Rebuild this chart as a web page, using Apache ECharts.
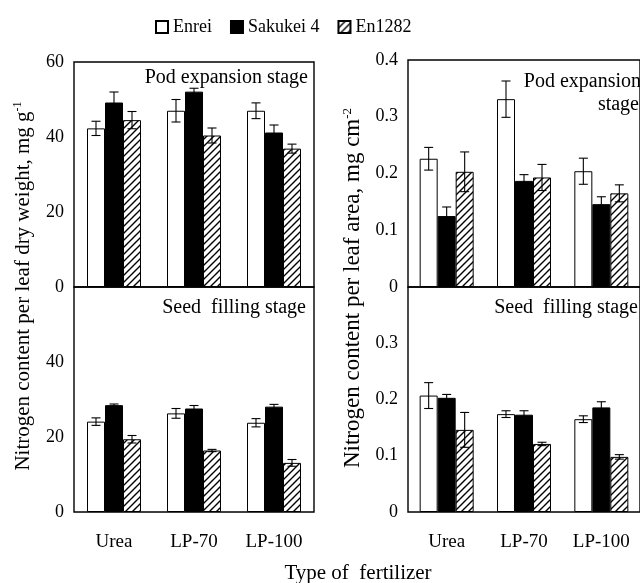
<!DOCTYPE html>
<html>
<head>
<meta charset="utf-8">
<script src="https://cdn.jsdelivr.net/npm/echarts@6/dist/echarts.min.js"></script>
<style>html,body{margin:0;padding:0;background:#fff}#c{width:640px;height:583px}</style>
</head>
<body>
<div id="c"></div>
<script>
const categories = ['Urea', 'LP-70', 'LP-100'];
const varieties = ['Enrei', 'Sakukei 4', 'En1282'];

// N content per leaf dry weight (mg g-1), pod expansion stage
const dwPodEnrei = [42.3, 47.0, 47.0];
const dwPodSakukei = [49.2, 52.1, 41.2];
const dwPodEn1282 = [44.5, 40.4, 36.9];
const dwPodEnreiErr = [1.9, 3.0, 2.1];
const dwPodSakukeiErr = [2.8, 0.9, 2.0];
const dwPodEn1282Err = [2.3, 2.0, 1.2];
// seed filling stage
const dwSeedEnrei = [24.1, 26.3, 23.8];
const dwSeedSakukei = [28.5, 27.6, 28.1];
const dwSeedEn1282 = [19.4, 16.4, 13.1];
const dwSeedEnreiErr = [1.0, 1.3, 1.1];
const dwSeedSakukeiErr = [0.3, 0.8, 0.6];
const dwSeedEn1282Err = [1.0, 0.3, 0.9];

// N content per leaf area (mg cm-2), pod expansion stage
const laPodEnrei = [0.226, 0.331, 0.204];
const laPodSakukei = [0.125, 0.187, 0.146];
const laPodEn1282 = [0.203, 0.193, 0.165];
const laPodEnreiErr = [0.020, 0.032, 0.023];
const laPodSakukeiErr = [0.016, 0.011, 0.013];
const laPodEn1282Err = [0.035, 0.023, 0.015];
// seed filling stage
const laSeedEnrei = [0.207, 0.174, 0.165];
const laSeedSakukei = [0.203, 0.173, 0.186];
const laSeedEn1282 = [0.146, 0.121, 0.098];
const laSeedEnreiErr = [0.023, 0.006, 0.006];
const laSeedSakukeiErr = [0.006, 0.007, 0.010];
const laSeedEn1282Err = [0.031, 0.003, 0.004];

const leftTicks = {min: 0, max: 60, interval: 20};
const rightTicks = {min: 0, max: 0.4, interval: 0.1};

const FONT = '"Liberation Serif", "Times New Roman", serif';
const BAR_W = 18;

// hatch pattern
const pc = document.createElement('canvas');
pc.width = 7; pc.height = 7;
const pctx = pc.getContext('2d');
pctx.fillStyle = '#fff'; pctx.fillRect(0, 0, 7, 7);
pctx.strokeStyle = '#000'; pctx.lineWidth = 1.4;
pctx.beginPath();
pctx.moveTo(-1, 8); pctx.lineTo(8, -1);
pctx.moveTo(-1, 1); pctx.lineTo(1, -1);
pctx.moveTo(6, 8); pctx.lineTo(8, 6);
pctx.stroke();

const styles = [
  {color: '#fff', borderColor: '#000', borderWidth: 1},
  {color: '#000', borderColor: '#000', borderWidth: 1},
  {color: {image: pc, repeat: 'repeat'}, borderColor: '#000', borderWidth: 1}
];

const panels = [
  {vals: [dwPodEnrei, dwPodSakukei, dwPodEn1282], errs: [dwPodEnreiErr, dwPodSakukeiErr, dwPodEn1282Err], ticks: leftTicks, top: true},
  {vals: [dwSeedEnrei, dwSeedSakukei, dwSeedEn1282], errs: [dwSeedEnreiErr, dwSeedSakukeiErr, dwSeedEn1282Err], ticks: leftTicks, top: false},
  {vals: [laPodEnrei, laPodSakukei, laPodEn1282], errs: [laPodEnreiErr, laPodSakukeiErr, laPodEn1282Err], ticks: rightTicks, top: true},
  {vals: [laSeedEnrei, laSeedSakukei, laSeedEn1282], errs: [laSeedEnreiErr, laSeedSakukeiErr, laSeedEn1282Err], ticks: rightTicks, top: false}
];

const grids = [
  {left: 74, top: 62, width: 240, height: 225},
  {left: 74, top: 287, width: 240, height: 225},
  {left: 408, top: 60, width: 240, height: 227},
  {left: 408, top: 287, width: 240, height: 225}
].map(g => Object.assign(g, {show: true, borderColor: '#000', borderWidth: 1.4, backgroundColor: 'transparent', containLabel: false}));

const xAxes = panels.map((p, i) => ({
  type: 'category', gridIndex: i, data: categories,
  axisLine: {show: false}, axisTick: {show: false},
  axisLabel: {show: !p.top, color: '#000', fontFamily: FONT, fontSize: 19, margin: 21}
}));
const yAxes = panels.map((p, i) => ({
  type: 'value', gridIndex: i, min: p.ticks.min, max: p.ticks.max, interval: p.ticks.interval,
  axisLine: {show: false}, axisTick: {show: false}, splitLine: {show: false},
  axisLabel: {color: '#000', fontFamily: FONT, fontSize: 18, margin: 10, showMaxLabel: p.top}
}));

const series = [];
panels.forEach((p, i) => {
  varieties.forEach((v, k) => {
    series.push({
      type: 'bar', name: v, xAxisIndex: i, yAxisIndex: i,
      data: p.vals[k], barWidth: BAR_W, barGap: '0%',
      itemStyle: styles[k], emphasis: {disabled: true}, z: 2
    });
  });
  const errData = [];
  varieties.forEach((v, k) => {
    p.vals[k].forEach((val, c) => errData.push([c, val, p.errs[k][c], k - 1]));
  });
  series.push({
    type: 'custom', name: 'err' + i, xAxisIndex: i, yAxisIndex: i, z: 5,
    data: errData,
    renderItem: function (params, api) {
      const c = api.value(0), val = api.value(1), e = api.value(2), off = api.value(3);
      const hi = api.coord([c, val + e]);
      const lo = api.coord([c, val - e]);
      const x = hi[0] + off * BAR_W;
      const st = {stroke: '#000', lineWidth: 1.1};
      return {type: 'group', children: [
        {type: 'line', shape: {x1: x, y1: hi[1], x2: x, y2: lo[1]}, style: st},
        {type: 'line', shape: {x1: x - 4.5, y1: hi[1], x2: x + 4.5, y2: hi[1]}, style: st},
        {type: 'line', shape: {x1: x - 4.5, y1: lo[1], x2: x + 4.5, y2: lo[1]}, style: st}
      ]};
    }
  });
});

const txt = (x, y, text, align, size) => ({
  type: 'text', x: x, y: y,
  style: {text: text, fill: '#000', font: size + 'px ' + FONT, textAlign: align, textVerticalAlign: 'middle'}
});

const graphic = [
  txt(308, 78, 'Pod expansion stage', 'right', 20),
  txt(641, 82, 'Pod expansion', 'right', 20),
  txt(639, 105, 'stage', 'right', 20),
  txt(306, 308, 'Seed  filling stage', 'right', 20),
  txt(638, 308, 'Seed  filling stage', 'right', 20),
  txt(358, 573, 'Type of  fertilizer', 'center', 21),
  {
    type: 'text', x: 23, y: 286, rotation: Math.PI / 2,
    style: {
      text: '{a|Nitrogen content per leaf dry weight, mg g}{s|-1}',
      textAlign: 'center', textVerticalAlign: 'middle',
      rich: {a: {fontFamily: FONT, fontSize: 21, color: '#000'}, s: {fontFamily: FONT, fontSize: 12, color: '#000', padding: [0, 0, 10, 0]}}
    }
  },
  {
    type: 'text', x: 353, y: 288, rotation: Math.PI / 2,
    style: {
      text: '{a|Nitrogen content per leaf area, mg cm}{s|-2}',
      textAlign: 'center', textVerticalAlign: 'middle',
      rich: {a: {fontFamily: FONT, fontSize: 23, color: '#000'}, s: {fontFamily: FONT, fontSize: 13, color: '#000', padding: [0, 0, 11, 0]}}
    }
  }
];

const chart = echarts.init(document.getElementById('c'), null, {renderer: 'canvas'});
chart.setOption({
  animation: false,
  backgroundColor: '#fff',
  legend: {
    data: varieties, left: 150, top: 13, itemWidth: 12, itemHeight: 12, itemGap: 18,
    icon: 'rect', selectedMode: false,
    textStyle: {color: '#000', fontFamily: FONT, fontSize: 18}
  },
  grid: grids, xAxis: xAxes, yAxis: yAxes, series: series, graphic: graphic
});
</script>
</body>
</html>
